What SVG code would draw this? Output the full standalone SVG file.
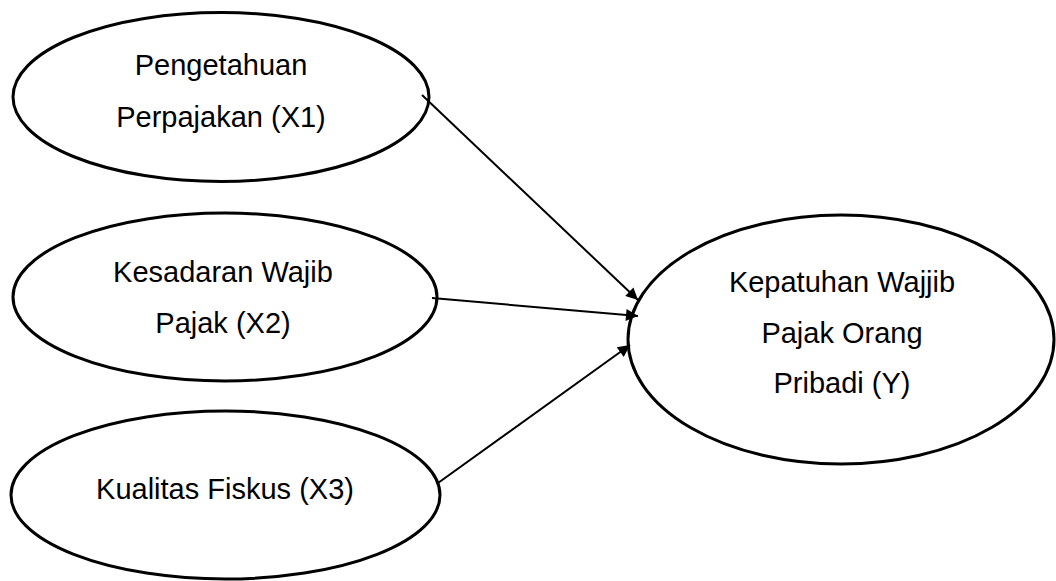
<svg xmlns="http://www.w3.org/2000/svg" width="1056" height="581" viewBox="0 0 1056 581">
<defs>
<style>
.node ellipse{fill:#fff;stroke:#000;stroke-width:3}
.node text{font-family:"Liberation Sans",Arial,sans-serif;font-size:29px;fill:#000;text-anchor:middle}
.edges line{stroke:#000;stroke-width:2}
</style>
<marker id="arr" viewBox="0 0 10 10" refX="10" refY="5" markerWidth="15" markerHeight="12" markerUnits="userSpaceOnUse" orient="auto">
<path d="M0,0 L10,5 L0,10 Z" fill="#000"/>
</marker>
</defs>
<rect width="1056" height="581" fill="#fff"/>
<g id="x1" class="node">
<ellipse cx="221" cy="97" rx="208" ry="84.5"/>
<text x="221" y="75">Pengetahuan</text>
<text x="221" y="127">Perpajakan (X1)</text>
</g>
<g id="x2" class="node">
<ellipse cx="225" cy="297" rx="212" ry="84"/>
<text x="223" y="282">Kesadaran Wajib</text>
<text x="223" y="333">Pajak (X2)</text>
</g>
<g id="x3" class="node">
<ellipse cx="225.5" cy="495" rx="214.5" ry="84"/>
<text x="225" y="499">Kualitas Fiskus (X3)</text>
</g>
<g id="y" class="node">
<ellipse cx="841" cy="339.5" rx="213" ry="124.5"/>
<text x="842" y="292">Kepatuhan Wajjib</text>
<text x="842" y="343">Pajak Orang</text>
<text x="842" y="393">Pribadi (Y)</text>
</g>
<g id="edges" class="edges">
<line x1="422" y1="95" x2="638" y2="300" marker-end="url(#arr)"/>
<line x1="432" y1="298" x2="638" y2="316" marker-end="url(#arr)"/>
<line x1="438" y1="483" x2="630" y2="345" marker-end="url(#arr)"/>
</g>
</svg>
